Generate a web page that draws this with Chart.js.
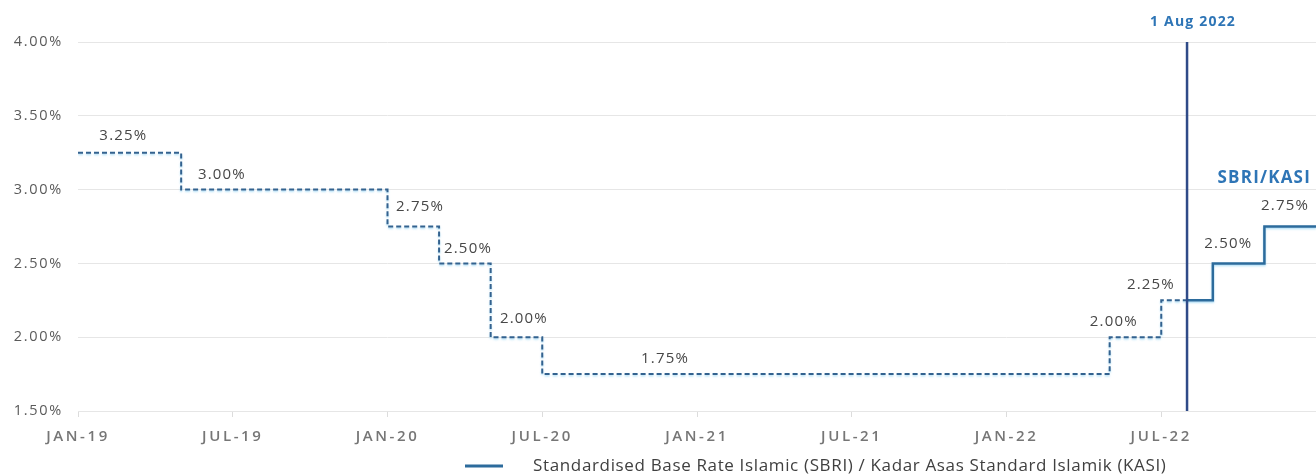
<!DOCTYPE html>
<html>
<head>
<meta charset="utf-8">
<title>SBRI / KASI</title>
<script src="https://cdn.jsdelivr.net/npm/chart.js@4.4.1/dist/chart.umd.min.js"></script>
<style>
  html, body { margin: 0; padding: 0; background: #ffffff; }
  canvas { display: block; }
</style>
</head>
<body>
<canvas id="chart" width="1316" height="474"></canvas>
<script>
// ---- data -------------------------------------------------------------
const xTickLabels = ['JAN-19', 'JUL-19', 'JAN-20', 'JUL-20', 'JAN-21', 'JUL-21', 'JAN-22', 'JUL-22'];
const yTickValues = [1.50, 2.00, 2.50, 3.00, 3.50, 4.00];

// reference rate before the switch (dashed)
const baseRateDates = ['2019-01', '2019-05', '2020-01', '2020-03', '2020-05', '2020-07', '2022-05', '2022-07'];
const baseRates     = [3.25,      3.00,      2.75,      2.50,      2.00,      1.75,      2.00,      2.25];

// SBRI / KASI from 1 Aug 2022 (solid)
const sbriDates = ['2022-08', '2022-09', '2022-11'];
const sbriRates = [2.25,      2.50,      2.75];

const startDate   = '2019-01';
const switchDate  = '2022-08';
const endDate     = '2023-01';
const switchLabel = '1 Aug 2022';
const seriesTag   = 'SBRI/KASI';
const seriesLabel = 'Standardised Base Rate Islamic (SBRI) / Kadar Asas Standard Islamik (KASI)';

// ---- helpers ----------------------------------------------------------
function monthIndex(d) {
  const [y, m] = d.split('-').map(Number);
  const [y0, m0] = startDate.split('-').map(Number);
  return (y - y0) * 12 + (m - m0);
}
const fmt = v => v.toFixed(2) + '%';

const basePoints = baseRateDates.map((d, i) => ({ x: monthIndex(d), y: baseRates[i] }));
basePoints.push({ x: monthIndex(switchDate), y: baseRates[baseRates.length - 1] });

const sbriPoints = sbriDates.map((d, i) => ({ x: monthIndex(d), y: sbriRates[i] }));
sbriPoints.push({ x: monthIndex(endDate), y: sbriRates[sbriRates.length - 1] });

const yMin = yTickValues[0];
const yMax = yTickValues[yTickValues.length - 1];
const switchPoints = [{ x: monthIndex(switchDate), y: yMin }, { x: monthIndex(switchDate), y: yMax }];

const FONT = "'Open Sans', 'Liberation Sans', sans-serif";
const LINE_BLUE = '#2c6b9c';
const DASH_BLUE = '#33628f';
const TAG_BLUE = '#2e75b6';

// ---- plugins ----------------------------------------------------------
// letter-spaced tick labels
const spacedTicks = {
  id: 'spacedTicks',
  afterUpdate(chart, args, opts) {
    Object.entries(opts.spacing || {}).forEach(([id, sp]) => {
      const scale = chart.scales[id];
      if (!scale || scale.__spaced) return;
      const orig = scale.drawLabels;
      scale.drawLabels = function (area) {
        const ctx = this.ctx;
        const prev = ctx.letterSpacing;
        ctx.letterSpacing = sp + 'px';
        orig.call(this, area);
        ctx.letterSpacing = prev;
      };
      scale.__spaced = true;
    });
  }
};

// pale halo under the rate lines
const lineHalo = {
  id: 'lineHalo',
  beforeDatasetDraw(chart, args, opts) {
    if (!opts.datasets.includes(args.index)) return;
    const ctx = chart.ctx;
    ctx.save();
    ctx.shadowColor = opts.color;
    ctx.shadowBlur = opts.blur;
    ctx.shadowOffsetY = opts.offsetY;
  },
  afterDatasetDraw(chart, args, opts) {
    if (!opts.datasets.includes(args.index)) return;
    chart.ctx.restore();
  }
};

// rate labels, switch marker text, series tag and legend
const stepAnnotations = {
  id: 'stepAnnotations',
  afterDatasetsDraw(chart, args, o) {
    const { ctx, scales: { x, y }, chartArea } = chart;
    ctx.save();
    ctx.letterSpacing = o.spacing + 'px';
    ctx.textAlign = 'center';
    ctx.textBaseline = 'middle';

    // value labels on each step
    ctx.font = `400 ${o.valueSize}px ${FONT}`;
    ctx.fillStyle = o.valueColor;
    const steps = [];
    baseRateDates.forEach((d, i) => steps.push({ m: monthIndex(d), v: baseRates[i] }));
    sbriDates.forEach((d, i) => { if (i > 0) steps.push({ m: monthIndex(d), v: sbriRates[i] }); });
    steps.forEach((s, i) => {
      const p = o.placement[i];
      ctx.fillText(fmt(s.v), x.getPixelForValue(s.m + p.dm), y.getPixelForValue(s.v) - p.lift);
    });

    // switch date label above the vertical marker
    ctx.font = `700 ${o.switchSize}px ${FONT}`;
    ctx.fillStyle = TAG_BLUE;
    ctx.fillText(switchLabel, x.getPixelForValue(monthIndex(switchDate)) + 6, chartArea.top - 20);

    // series tag
    ctx.font = `700 ${o.tagSize}px ${FONT}`;
    ctx.textAlign = 'right';
    ctx.fillText(seriesTag, chartArea.right - 5, y.getPixelForValue(3.08));

    // legend
    ctx.letterSpacing = o.legendSpacing + 'px';
    const ly = o.legendY;
    ctx.strokeStyle = LINE_BLUE;
    ctx.lineWidth = 3;
    ctx.beginPath();
    ctx.moveTo(o.legendX, ly);
    ctx.lineTo(o.legendX + 38, ly);
    ctx.stroke();
    ctx.font = `400 ${o.legendSize}px ${FONT}`;
    ctx.fillStyle = '#404040';
    ctx.textAlign = 'left';
    ctx.fillText(seriesLabel, o.legendX + 68, ly);
    ctx.restore();
  }
};

// ---- chart ------------------------------------------------------------
new Chart(document.getElementById('chart'), {
  type: 'line',
  data: {
    datasets: [
      {
        label: switchLabel,
        data: switchPoints,
        borderColor: '#2f4b88',
        borderWidth: 2.5,
        pointRadius: 0,
        order: 0
      },
      {
        label: 'Base rate',
        data: basePoints,
        stepped: 'before',
        borderColor: DASH_BLUE,
        borderWidth: 2,
        borderDash: [5, 3],
        pointRadius: 0,
        order: 1
      },
      {
        label: seriesLabel,
        data: sbriPoints,
        stepped: 'before',
        borderColor: LINE_BLUE,
        borderWidth: 2.5,
        pointRadius: 0,
        order: 1
      }
    ]
  },
  options: {
    responsive: false,
    devicePixelRatio: 1,
    animation: false,
    layout: { padding: { top: 42, right: 0, bottom: 25, left: 0 } },
    scales: {
      x: {
        type: 'linear',
        min: 0,
        max: monthIndex(endDate),
        afterBuildTicks: s => {
          s.ticks = [];
          for (let m = 0; m <= monthIndex(endDate); m += 6) s.ticks.push({ value: m });
        },
        afterFit: s => { s.height = 38; s.paddingRight = 0; },
        ticks: {
          autoSkip: false,
          maxRotation: 0,
          padding: 11,
          color: '#767676',
          font: { family: FONT, size: 15, weight: '600' },
          callback: v => xTickLabels[v / 6] || ''
        },
        grid: { drawOnChartArea: false, drawTicks: true, tickLength: 6, color: '#dcdcdc' },
        border: { display: false }
      },
      y: {
        min: yMin,
        max: yMax,
        afterBuildTicks: s => { s.ticks = yTickValues.map(v => ({ value: v })); },
        afterFit: s => { s.width = 78; s.paddingTop = 0; s.paddingBottom = 0; },
        ticks: {
          padding: 15,
          color: '#5a5a5a',
          font: { family: FONT, size: 14.5 },
          callback: v => fmt(v)
        },
        grid: { color: '#e6e6e6', drawTicks: false },
        border: { display: false }
      }
    },
    plugins: {
      legend: { display: false },
      tooltip: { enabled: false },
      spacedTicks: { spacing: { x: 2.6, y: 1.7 } },
      lineHalo: { datasets: [1, 2], color: 'rgba(120, 200, 240, 0.55)', blur: 2, offsetY: 1.5 },
      stepAnnotations: {
        spacing: 1.2,
        valueSize: 15,
        valueColor: '#474747',
        switchSize: 14,
        tagSize: 17,
        legendSize: 17,
        legendSpacing: 0.65,
        legendX: 465,
        legendY: 466,
        placement: [
          { dm: 1.76, lift: 17 },
          { dm: 1.58, lift: 15 },
          { dm: 1.26, lift: 20 },
          { dm: 1.12, lift: 15 },
          { dm: 1.29, lift: 18.5 },
          { dm: 4.76, lift: 15 },
          { dm: 0.16, lift: 15.5 },
          { dm: -0.40, lift: 16 },
          { dm: 0.60, lift: 20 },
          { dm: 0.80, lift: 21 }
        ]
      }
    }
  },
  plugins: [spacedTicks, lineHalo, stepAnnotations]
});
</script>
</body>
</html>
